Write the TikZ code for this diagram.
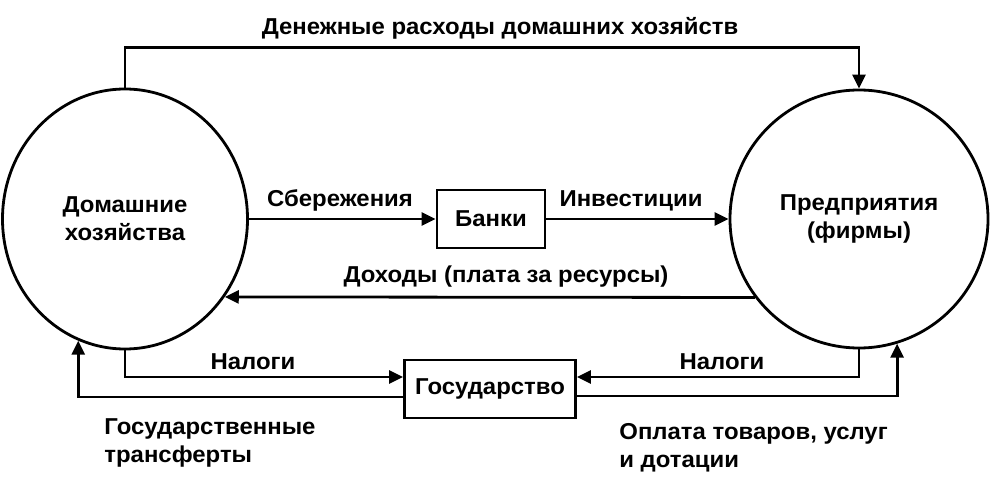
\documentclass[tikz,border=0pt]{standalone}
\usepackage{fontspec}
\setmainfont[FakeStretch=1.04]{Liberation Sans}
\usetikzlibrary{arrows.meta,shapes.geometric,calc}

\begin{document}
\begin{tikzpicture}[x=1pt,y=-1pt,line width=2.8pt,
  font=\fontsize{23}{28}\selectfont\bfseries,
  sector/.style={draw,ellipse,inner sep=0pt,align=center},
  office/.style={draw,rectangle,inner sep=0pt},
  flow/.style={-{Triangle[length=14pt,width=13pt]}},
  lbl/.style={anchor=base,inner sep=0pt}]

\useasboundingbox (0,0) rectangle (992,478);

% SECTORS AND INSTITUTIONS

\node[sector,minimum width=245pt,minimum height=260pt] (home) at (125,219) {Домашние\\хозяйства};
\node[sector,minimum width=258pt,minimum height=258pt] (firm) at (859,219) {Предприятия\\(фирмы)};
\node[office,minimum width=108pt,minimum height=58pt] (bank) at (491,219) {Банки};
\node[office,minimum width=171pt,minimum height=58pt] (gov) at (490,389) {Государство};

% FLOWS

\draw[flow] (home.north) -- ++(0,-40) -| (firm.north);
\draw[flow] (home.east) -- (bank.west);
\draw[flow] (bank.east) -- (firm.west);
\draw[flow] (firm.217) -- (home.322);
\draw[flow] (home.south) |- ($(gov.west)+(0,-12)$);
\draw[flow] ($(gov.west)+(0,8)$) -| (home.249);
\draw[flow] (firm.south) |- ($(gov.east)+(0,-12)$);
\draw[flow] ($(gov.east)+(0,7)$) -| (firm.287);

% LABELS

\node[lbl] (spend) at (500,35) {Денежные расходы домашних хозяйств};
\node[lbl] (savings) at (340,207) {Сбережения};
\node[lbl] (invest) at (631,207) {Инвестиции};
\node[lbl] (income) at (506,282) {Доходы (плата за ресурсы)};
\node[lbl] (taxhome) at (253,369) {Налоги};
\node[lbl] (taxfirm) at (722,369) {Налоги};
\node[anchor=north west,align=left,inner sep=0pt] (transfer) at (103,417) {Государственные\\трансферты};
\node[anchor=north west,align=left,inner sep=0pt] (payment) at (618,422) {Оплата товаров, услуг\\и дотации};

\end{tikzpicture}
\end{document}
